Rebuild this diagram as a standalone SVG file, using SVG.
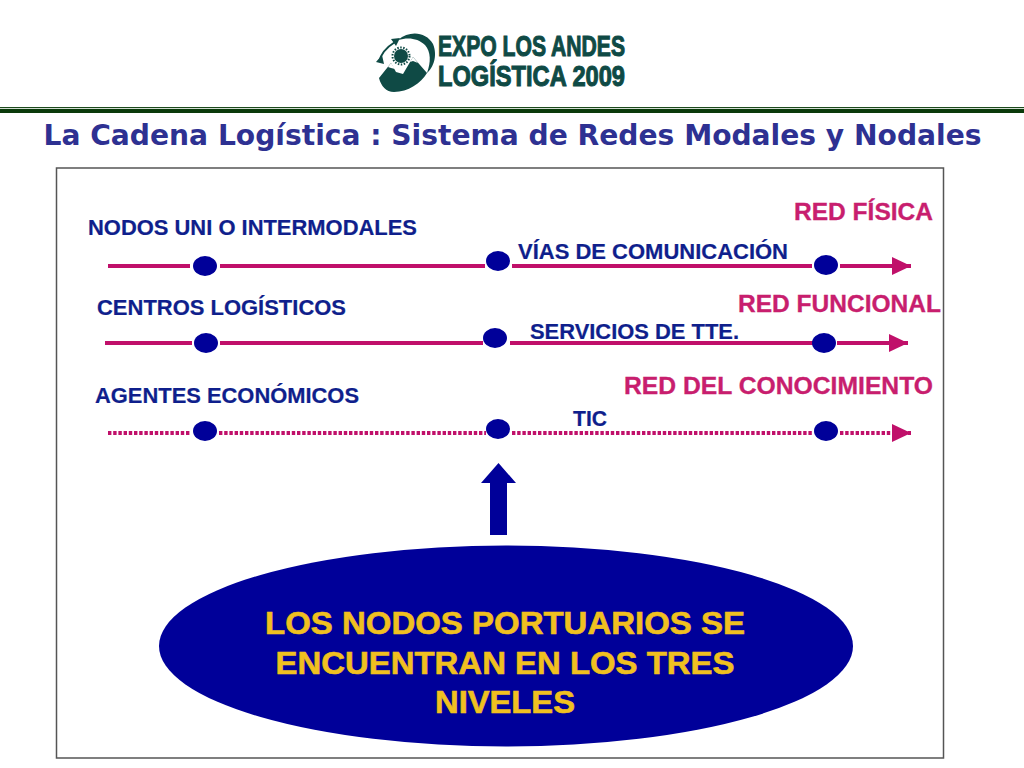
<svg xmlns="http://www.w3.org/2000/svg" width="1024" height="768" viewBox="0 0 1024 768">
<style>
.t{font-family:"Liberation Sans",Arial,sans-serif;font-weight:700}
.b{font-size:21.5px;fill:#0f1f8c;stroke:#0f1f8c;stroke-width:.2px}
.r{font-size:23px;fill:#c81e6e;stroke:#c81e6e;stroke-width:.3px}
.y{font-size:31.5px;fill:#f0c020;stroke:#f0c020;stroke-width:.6px;text-anchor:middle}
.l{stroke:#c0106a;stroke-width:4;fill:none}
.d{stroke:#c0106a;stroke-width:4;stroke-dasharray:3.400 1.800;fill:none}
.n{fill:#000099}
.logo{font-family:"Liberation Sans",Arial,sans-serif;font-weight:700;fill:#0f4a45;stroke:#0f4a45;stroke-width:1.1px;font-size:30px}
</style>
<defs><marker id="a" markerUnits="userSpaceOnUse" markerWidth="20" markerHeight="20" refX="19" refY="10" orient="auto"><path d="M0 1L19 10L0 19Z" fill="#c0106a"/></marker></defs>
<rect width="1024" height="768" fill="#fff"/>
<g id="logo">
<path d="M379 78L391 63L396 72L403 74L413 57L427 73C421 83 408 92 394 92C386 92 381 86 379 78Z" fill="#0f4a45"/>
<path d="M388 67L391 63L395 69L391 68ZM410 62L413 57L418 63L413 61Z" fill="#fff"/>
<path d="M398 40C410 30 426 32 433 44C438 56 433 68 427 73C431 62 431 52 425 45C418 38 408 37 398 40Z" fill="#0f4a45"/>
<path d="M379 62C381 53 387 47 395 42" fill="none" stroke="#0f4a45" stroke-width="2"/>
<path d="M376 62L382 55L384 64ZM391 39L400 38L396 46Z" fill="#0f4a45"/>
<circle cx="401" cy="56" r="7" fill="#0f4a45"/>
<circle cx="401" cy="56" r="8.500" fill="none" stroke="#0f4a45" stroke-width="2" stroke-dasharray="1.500 1.500"/>
<text class="logo" x="438" y="56" textLength="187" lengthAdjust="spacingAndGlyphs">EXPO LOS ANDES</text>
<text class="logo" x="438" y="86" textLength="187" lengthAdjust="spacingAndGlyphs">LOGÍSTICA 2009</text>
</g>
<g id="rule"><rect x="0" y="107" width="1024" height="1.200" fill="#1c4a1c"/><rect x="0" y="109" width="1024" height="4" fill="#0a3a0a"/></g>
<text id="title" class="t" x="512.500" y="145" text-anchor="middle" font-size="29" fill="#2e3192" style="font-family:'DejaVu Sans',Verdana,sans-serif" textLength="938" lengthAdjust="spacingAndGlyphs">La Cadena Logística : Sistema de Redes Modales y Nodales</text>
<rect id="frame" x="56.500" y="168" width="887" height="590" fill="#fff" stroke="#555" stroke-width="1.500"/>
<g id="connectors">
<path class="l" d="M108 266H190M220 266H485M512 266H812M840 266H911" marker-end="url(#a)"/>
<path class="l" d="M105 343H192M220 343H483M510 343H813M837 343H908" marker-end="url(#a)"/>
<path class="d" d="M108 433H190M219 433H486M512 433H813M840 433H911" marker-end="url(#a)"/>
<path id="up-arrow" class="n" d="M490 535V483H481L498.500 463L516 483H507V535Z"/>
</g>
<g id="nodes">
<ellipse id="n11" class="n" cx="205" cy="266" rx="12" ry="10"/>
<ellipse id="n12" class="n" cx="498" cy="261" rx="12" ry="10"/>
<ellipse id="n13" class="n" cx="826" cy="265" rx="12" ry="10"/>
<ellipse id="n21" class="n" cx="206" cy="343" rx="12" ry="10"/>
<ellipse id="n22" class="n" cx="495" cy="338" rx="12" ry="10"/>
<ellipse id="n23" class="n" cx="824" cy="343" rx="12" ry="10"/>
<ellipse id="n31" class="n" cx="205" cy="431" rx="12" ry="10"/>
<ellipse id="n32" class="n" cx="498" cy="429" rx="12" ry="10"/>
<ellipse id="n33" class="n" cx="826" cy="431" rx="12" ry="10"/>
</g>
<g id="labels" class="t">
<text class="t b" x="88" y="235" textLength="329" lengthAdjust="spacingAndGlyphs">NODOS UNI O INTERMODALES</text>
<text class="t b" x="518" y="259" textLength="270" lengthAdjust="spacingAndGlyphs">VÍAS DE COMUNICACIÓN</text>
<text class="t b" x="97" y="315" textLength="249" lengthAdjust="spacingAndGlyphs">CENTROS LOGÍSTICOS</text>
<text class="t b" x="530" y="339" textLength="209" lengthAdjust="spacingAndGlyphs">SERVICIOS DE TTE.</text>
<text class="t b" x="95" y="403" textLength="264" lengthAdjust="spacingAndGlyphs">AGENTES ECONÓMICOS</text>
<text class="t b" x="573" y="426" textLength="34" lengthAdjust="spacingAndGlyphs">TIC</text>
<text class="t r" x="794" y="220" textLength="139" lengthAdjust="spacingAndGlyphs">RED FÍSICA</text>
<text class="t r" x="738" y="312" textLength="203" lengthAdjust="spacingAndGlyphs">RED FUNCIONAL</text>
<text class="t r" x="624" y="394" textLength="309" lengthAdjust="spacingAndGlyphs">RED DEL CONOCIMIENTO</text>
</g>
<g id="oval">
<ellipse class="n" cx="506" cy="646" rx="347" ry="100.500"/>
<text class="t y" x="505" y="634" textLength="480" lengthAdjust="spacingAndGlyphs">LOS NODOS PORTUARIOS SE</text>
<text class="t y" x="505" y="674" textLength="459" lengthAdjust="spacingAndGlyphs">ENCUENTRAN EN LOS TRES</text>
<text class="t y" x="505" y="713" textLength="140" lengthAdjust="spacingAndGlyphs">NIVELES</text>
</g>
</svg>
